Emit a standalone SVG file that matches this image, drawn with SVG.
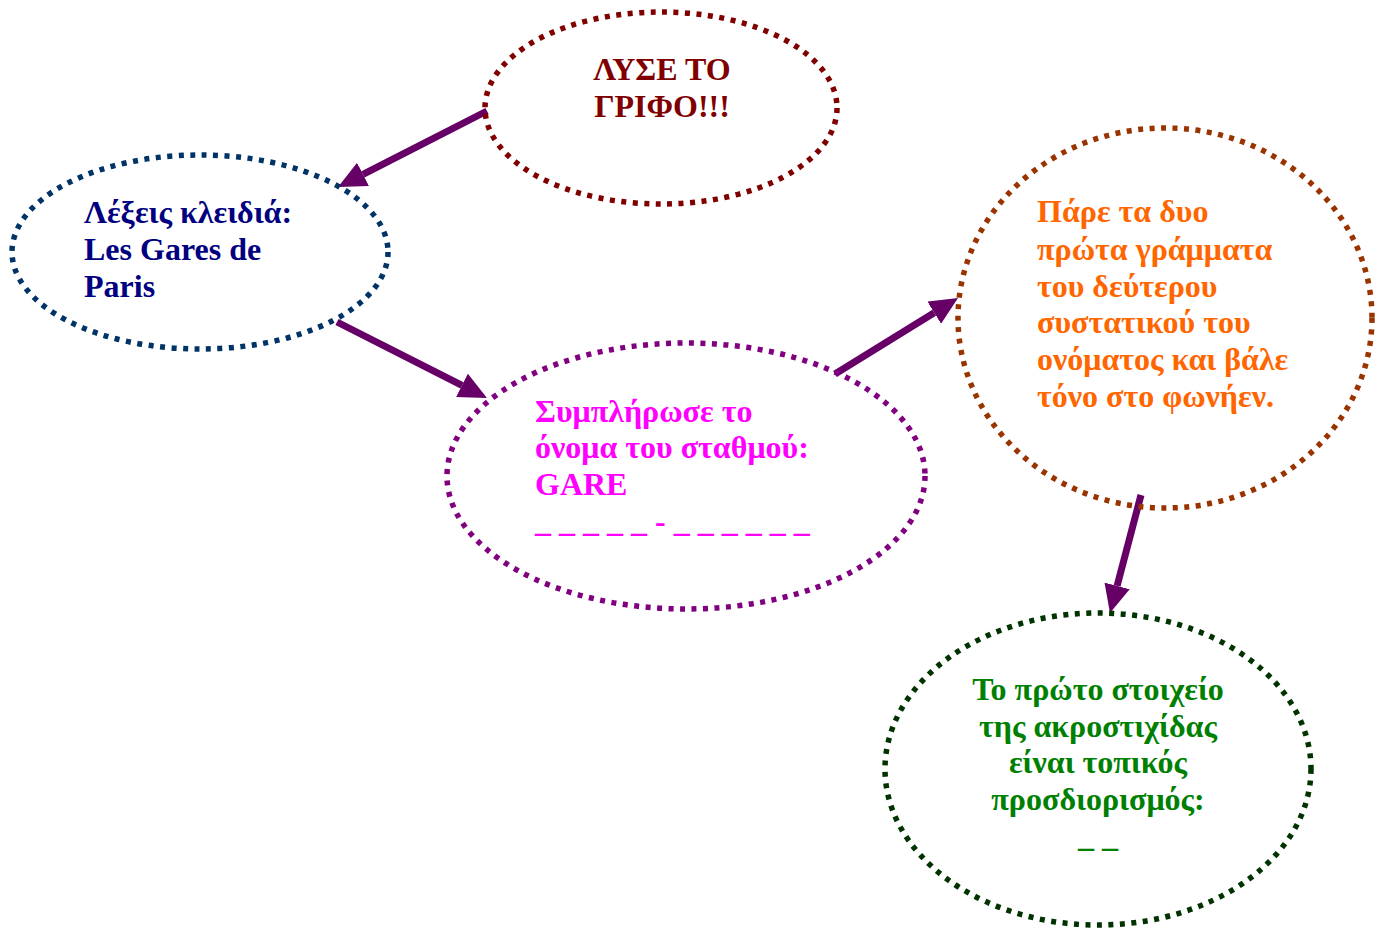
<svg xmlns="http://www.w3.org/2000/svg" width="1384" height="928" viewBox="0 0 1384 928">
<style>
.node{fill:none;stroke-width:5.5;stroke-dasharray:5 6.5}
.t{font-family:"Liberation Serif","Times New Roman",serif;font-weight:bold;font-size:32px}
.conn{stroke:#660066;stroke-width:7;fill:none}
</style>
<defs>
<marker id="ah" markerUnits="userSpaceOnUse" markerWidth="28" markerHeight="26" viewBox="0 0 28 26" refX="0" refY="13" orient="auto">
<path d="M0,0 L28,13 L0,26 Z" fill="#660066"/>
</marker>
</defs>
<rect width="1384" height="928" fill="#ffffff"/>
<g id="connectors">
<line class="conn" x1="487" y1="111" x2="363" y2="174.3" marker-end="url(#ah)"/>
<line class="conn" x1="337" y1="322" x2="462" y2="385.3" marker-end="url(#ah)"/>
<line class="conn" x1="835" y1="374" x2="934.2" y2="312.7" marker-end="url(#ah)"/>
<line class="conn" x1="1141" y1="495" x2="1117.1" y2="585.9" marker-end="url(#ah)"/>
</g>
<g id="node-lyse">
<ellipse class="node" cx="661" cy="108" rx="176" ry="96" stroke="#800000"/>
<text class="t" fill="#800000" text-anchor="middle"><tspan x="662" y="80">ΛΥΣΕ ΤΟ</tspan><tspan x="662" y="117">ΓΡΙΦΟ!!!</tspan></text>
</g>
<g id="node-lexeis">
<ellipse class="node" cx="200" cy="252" rx="188" ry="97" stroke="#003366"/>
<text class="t" fill="#000080"><tspan x="84" y="223">Λέξεις κλειδιά:</tspan><tspan x="84" y="260">Les Gares de</tspan><tspan x="84" y="297">Paris</tspan></text>
</g>
<g id="node-symplirose">
<ellipse class="node" cx="686" cy="476" rx="239" ry="133" stroke="#800080"/>
<text class="t" fill="#ff00ff"><tspan x="535" y="422">Συμπλήρωσε το</tspan><tspan x="535" y="458">όνομα του σταθμού:</tspan><tspan x="535" y="495">GARE</tspan><tspan x="535" y="532">_ _ _ _ _ - _ _ _ _ _ _</tspan></text>
</g>
<g id="node-pare">
<ellipse class="node" cx="1165" cy="318" rx="207" ry="190" stroke="#993300"/>
<text class="t" fill="#ff6600"><tspan x="1037" y="222">Πάρε τα δυο</tspan><tspan x="1037" y="260">πρώτα γράμματα</tspan><tspan x="1037" y="297">του δεύτερου</tspan><tspan x="1037" y="333">συστατικού του</tspan><tspan x="1037" y="370">ονόματος και βάλε</tspan><tspan x="1037" y="407">τόνο στο φωνήεν.</tspan></text>
</g>
<g id="node-proto">
<ellipse class="node" cx="1098" cy="769" rx="213" ry="156" stroke="#003300"/>
<text class="t" fill="#008000" text-anchor="middle"><tspan x="1098" y="700">Το πρώτο στοιχείο</tspan><tspan x="1098" y="737">της ακροστιχίδας</tspan><tspan x="1098" y="773">είναι τοπικός</tspan><tspan x="1098" y="810">προσδιορισμός:</tspan><tspan x="1098" y="847">_ _</tspan></text>
</g>
</svg>
